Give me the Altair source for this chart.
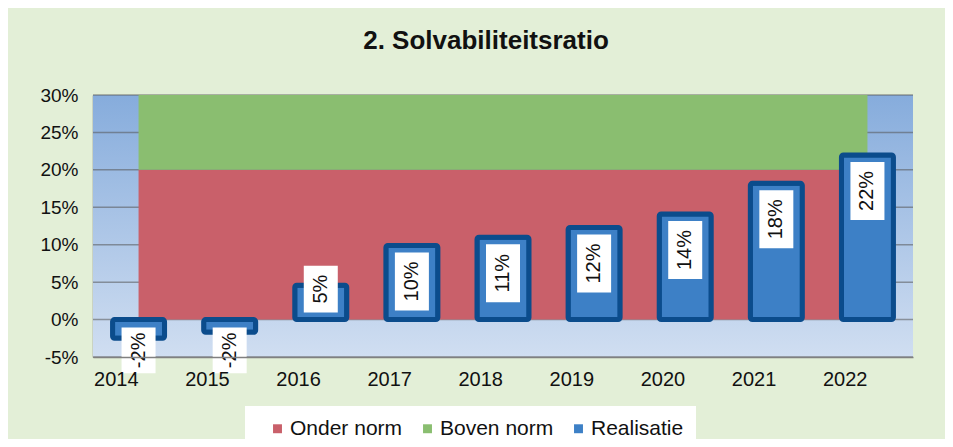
import altair as alt
import pandas as pd

years = ["2014", "2015", "2016", "2017", "2018", "2019", "2020", "2021", "2022"]
realisatie = [-2.5, -1.7, 4.6, 9.9, 11.0, 12.3, 14.1, 18.2, 22.0]
value_labels = ["-2%", "-2%", "5%", "10%", "11%", "12%", "14%", "18%", "22%"]
onder_norm = [20, 20, 20, 20, 20, 20, 20, 20, 20]
boven_norm = [10, 10, 10, 10, 10, 10, 10, 10, 10]
y_ticks = [-5, 0, 5, 10, 15, 20, 25, 30]
series_names = ["Onder norm", "Boven norm", "Realisatie"]
series_colors = ["#c9606a", "#8abe70", "#3d80c6"]

W, H = 820, 262
Y_MIN, Y_MAX = -5, 30
PX = H / (Y_MAX - Y_MIN)  # pixels per percentage point

# stacked norm areas
area_rows = []
for y, o, b in zip(years, onder_norm, boven_norm):
    area_rows.append({"year": y, "series": "Onder norm", "v": o, "ord": 0})
    area_rows.append({"year": y, "series": "Boven norm", "v": b, "ord": 1})
area_df = pd.DataFrame(area_rows)

bar_df = pd.DataFrame({"year": years, "v": realisatie, "series": "Realisatie"})

# label boxes (white) derived from values and label text length
cw = {"-": 0.333, "%": 0.889}
FS = 20
rows = []
for y, v, lab in zip(years, realisatie, value_labels):
    tw = sum(cw.get(c, 0.556) for c in lab) * FS
    if v >= 0:
        h = (tw + 18) / PX
        gap = 7 / PX
        top = v - gap
        bot = top - h
        if bot < gap:
            bot = gap
            top = bot + h
    else:
        h = (tw + 10) / PX
        top = -8 / PX
        bot = top - h
    rows.append({"year": y, "top": top, "bot": bot, "mid": (top + bot) / 2, "label": lab})
lab_df = pd.DataFrame(rows)

grid_df = pd.DataFrame({"t": y_ticks})

x_enc = alt.X("year:O", title=None,
              scale=alt.Scale(paddingInner=0, paddingOuter=0),
              axis=alt.Axis(labelAngle=0, labelFontSize=20, labelColor="#111111",
                            labelPadding=22, ticks=False, domainColor="#808080",
                            domainWidth=1.5, zindex=1))
y_scale = alt.Scale(domain=[Y_MIN, Y_MAX], nice=False, zero=False)
y_axis = alt.Axis(values=y_ticks, labelExpr="datum.value + '%'", labelFontSize=19,
                  labelColor="#111111", labelPadding=15, ticks=False, grid=False,
                  labelOverlap=False, labelBound=False, domainColor="#808080",
                  domainWidth=1.5)

color_scale = alt.Scale(domain=series_names, range=series_colors)

bg = alt.Chart(grid_df).mark_rect(
    fill=alt.LinearGradient(gradient="linear",
                            stops=[alt.GradientStop(color="#86acdc", offset=0),
                                   alt.GradientStop(color="#d0def1", offset=1)],
                            x1=0, x2=0, y1=0, y2=1)
).encode(x=alt.value(0), x2=alt.value("width"), y=alt.value(0), y2=alt.value("height"))

grid = alt.Chart(grid_df).mark_rule(color="#555555", opacity=0.55, strokeWidth=1.5).encode(
    y=alt.Y("t:Q", scale=y_scale, axis=y_axis, title=None)
)

areas = alt.Chart(area_df).mark_area(opacity=1).encode(
    x=alt.X("year:O", bandPosition=0.5, title=None),
    y=alt.Y("v:Q", stack="zero", scale=y_scale, axis=y_axis, title=None),
    color=alt.Color("series:N", scale=color_scale,
                    legend=alt.Legend(title=None, orient="none", legendX=152, legendY=311,
                                      direction="horizontal", fillColor="white",
                                      padding=12, symbolOffset=10, symbolType="square",
                                      symbolSize=80, symbolStrokeWidth=0, symbolOpacity=1,
                                      labelFontSize=21, labelColor="#111111",
                                      columnPadding=4, labelOffset=2)),
    order=alt.Order("ord:Q"),
)

bars = alt.Chart(bar_df).mark_bar(size=52, stroke="#0b4c8c", strokeWidth=5,
                                  cornerRadius=2).encode(
    x=x_enc,
    y=alt.Y("v:Q", scale=y_scale, axis=y_axis, title=None),
    color=alt.Color("series:N", scale=color_scale),
)

boxes = alt.Chart(lab_df).mark_bar(size=34, color="white").encode(
    x=alt.X("year:O"),
    y=alt.Y("top:Q", scale=y_scale, axis=y_axis, title=None),
    y2="bot:Q",
)

texts = alt.Chart(lab_df).mark_text(angle=270, fontSize=FS, color="#111111",
                                    baseline="middle", align="center").encode(
    x=alt.X("year:O"),
    y=alt.Y("mid:Q", scale=y_scale, axis=y_axis, title=None),
    text="label:N",
)

chart = alt.layer(bg, grid, areas, bars, boxes, texts).properties(
    width=W, height=H,
    title=alt.TitleParams("2. Solvabiliteitsratio", fontSize=26, fontWeight="bold",
                          font="Liberation Sans", color="#111111", anchor="middle",
                          baseline="alphabetic", offset=11, dx=-17),
    autosize=alt.AutoSizeParams(type="none"),
    padding={"left": 85, "top": 87, "right": 32, "bottom": 82},
).configure(
    background="#e3efd7", font="Liberation Sans"
).configure_view(stroke=None)

chart.save("out.html", embed_options={"renderer": "svg", "actions": False})
